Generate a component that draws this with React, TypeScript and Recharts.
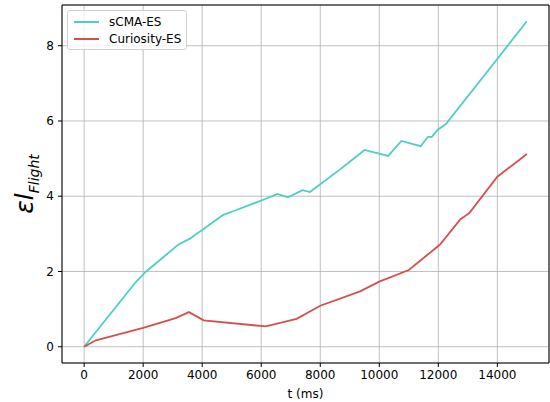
import { LineChart, Line, XAxis, YAxis, CartesianGrid, ReferenceLine } from "recharts";

const FONT = "'DejaVu Sans', sans-serif";

// sCMA-ES trajectory
const scmaTime = [0, 1750, 2100, 3200, 3600, 3750, 4000, 4700, 5050, 6050, 6550, 6900, 7400, 7650, 8650, 9500, 10300, 10750, 11400, 11650, 11780, 11980, 12250, 14050, 15000];
const scmaValue = [0, 1.72, 2.0, 2.72, 2.88, 2.97, 3.1, 3.5, 3.6, 3.9, 4.06, 3.97, 4.16, 4.11, 4.7, 5.23, 5.07, 5.47, 5.33, 5.58, 5.58, 5.77, 5.91, 7.7, 8.65];

// Curiosity-ES trajectory
const curiosityTime = [0, 400, 2000, 3100, 3550, 4050, 6150, 6500, 7200, 8000, 9350, 10000, 11000, 12050, 12750, 13050, 14000, 15000];
const curiosityValue = [0, 0.17, 0.5, 0.76, 0.92, 0.7, 0.54, 0.61, 0.74, 1.09, 1.47, 1.73, 2.04, 2.71, 3.39, 3.55, 4.52, 5.12];

const xTicks = [0, 2000, 4000, 6000, 8000, 10000, 12000, 14000];
const yTicks = [0, 2, 4, 6, 8];

const X_DOMAIN: [number, number] = [-750, 15750];
const Y_DOMAIN: [number, number] = [-0.4325, 9.0825];

const TEAL = "#4ecdc4";
const RED = "#d4504c";

const scmaData = scmaTime.map((t, i) => ({ t, v: scmaValue[i] }));
const curiosityData = curiosityTime.map((t, i) => ({ t, v: curiosityValue[i] }));

const legendItems = [
  { name: "sCMA-ES", color: TEAL },
  { name: "Curiosity-ES", color: RED },
];

// legend drawn as an overlay in the upper-left corner of the plot
function LegendBox() {
  return (
    <div
      style={{
        position: "absolute",
        left: 67,
        top: 10,
        width: 118,
        height: 38,
        border: "1px solid #d0d0d0",
        borderRadius: 3,
        background: "rgba(255,255,255,0.8)",
        fontFamily: FONT,
        fontSize: 12,
        color: "#000",
      }}
    >
      {legendItems.map((item, i) => (
        <div
          key={item.name}
          style={{ position: "absolute", left: 6, top: 2 + i * 17, height: 17, display: "flex", alignItems: "center" }}
        >
          <div style={{ width: 25, height: 2, background: item.color }} />
          <span style={{ marginLeft: 10, whiteSpace: "nowrap" }}>{item.name}</span>
        </div>
      ))}
    </div>
  );
}

function YLabel() {
  return (
    <text
      transform="translate(33, 184) rotate(-90)"
      textAnchor="middle"
      fontFamily={FONT}
      fill="#000"
      fontStyle="italic"
    >
      <tspan fontSize={25}>εl</tspan>
      <tspan fontSize={14} dy={6}>Flight</tspan>
    </text>
  );
}

export default function App() {
  const tickStyle = { fontFamily: FONT, fontSize: 12, fill: "#000" };
  return (
    <div style={{ position: "absolute", left: 0, top: 0, width: 550, height: 402, background: "#fff" }}>
      <LineChart width={550} height={402} margin={{ top: 5, right: 1, left: 0, bottom: 0 }}>
        <CartesianGrid stroke="#b0b0b0" strokeWidth={0.8} />
        <XAxis
          type="number"
          dataKey="t"
          domain={X_DOMAIN}
          ticks={xTicks}
          allowDataOverflow
          height={39}
          tickSize={4}
          tickMargin={3}
          tick={tickStyle}
          axisLine={{ stroke: "#000", strokeWidth: 1 }}
          tickLine={{ stroke: "#000", strokeWidth: 1 }}
          label={{ value: "t (ms)", position: "insideBottom", offset: 4, style: { fontFamily: FONT, fontSize: 12, fill: "#000" } }}
        />
        <YAxis
          type="number"
          dataKey="v"
          domain={Y_DOMAIN}
          ticks={yTicks}
          allowDataOverflow
          width={62}
          tickSize={4}
          tickMargin={4}
          tick={tickStyle}
          axisLine={{ stroke: "#000", strokeWidth: 1 }}
          tickLine={{ stroke: "#000", strokeWidth: 1 }}
          label={<YLabel />}
        />
        <ReferenceLine y={Y_DOMAIN[1]} stroke="#000" strokeWidth={1} />
        <ReferenceLine x={X_DOMAIN[1]} stroke="#000" strokeWidth={1} />
        <Line
          data={scmaData}
          dataKey="v"
          name="sCMA-ES"
          type="linear"
          stroke={TEAL}
          strokeWidth={1.8}
          dot={false}
          isAnimationActive={false}
        />
        <Line
          data={curiosityData}
          dataKey="v"
          name="Curiosity-ES"
          type="linear"
          stroke={RED}
          strokeWidth={1.8}
          dot={false}
          isAnimationActive={false}
        />
      </LineChart>
      <LegendBox />
    </div>
  );
}
